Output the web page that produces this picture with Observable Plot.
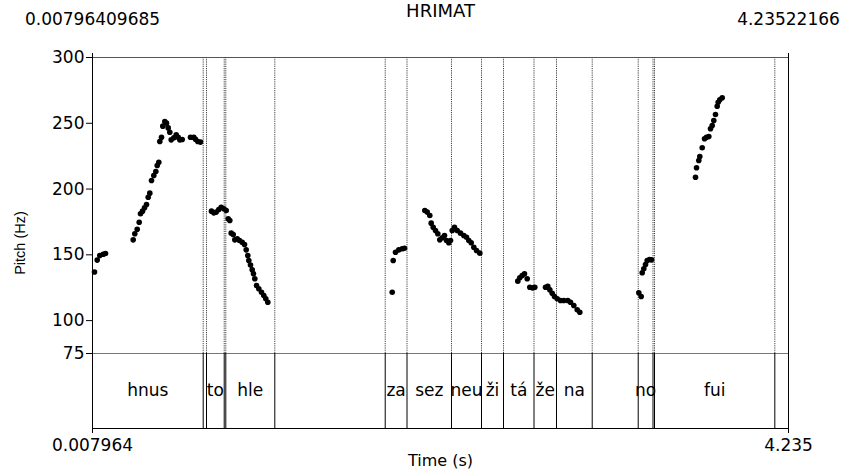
<!DOCTYPE html>
<html><head><meta charset="utf-8">
<script src="https://cdn.jsdelivr.net/npm/d3@7"></script>
<script src="https://cdn.jsdelivr.net/npm/@observablehq/plot@0.6"></script>
<style>body{margin:0;background:#fff}</style>
</head><body><div id="chart"></div>
<script>
const title = "HRIMAT";
const xLabel = "Time (s)";
const yLabel = "Pitch (Hz)";
const tStart = 0.00796409685, tEnd = 4.23522166;
const topLabels = ["0.00796409685", "4.23522166"];
const bottomLabels = ["0.007964", "4.235"];
const yTicks = [75, 100, 150, 200, 250, 300];
const fMin = 75, fMax = 300, tierBottom = 18;

const boundaries = [0.6803, 0.7004, 0.8079, 0.8176, 1.1152, 1.7858, 1.9182, 2.1884, 2.3707,
  2.5043, 2.6895, 2.8262, 3.0430, 3.3224, 3.4123, 3.4214, 4.1521];
const wordLabels = ["hnus", "", "to", "", "hle", "", "za", "sez", "neu", "ži", "tá", "že", "na", "", "no", "", "fui", ""];

const pitchTime = [
  0.0201, 0.0365, 0.0523, 0.0730, 0.0869,
  0.2552, 0.2649, 0.2795, 0.2916, 0.2995, 0.3117, 0.3238, 0.3360, 0.3463, 0.3560, 0.3663, 0.3803, 0.3925, 0.4010, 0.4107,
  0.4168, 0.4271, 0.4350, 0.4471, 0.4574, 0.4678, 0.4775, 0.4860, 0.5018, 0.5164, 0.5285, 0.5382, 0.5528, 0.6032, 0.6233,
  0.6336, 0.6476, 0.6640,
  0.7307, 0.7447, 0.7593, 0.7751, 0.7896, 0.8054, 0.8200, 0.8322, 0.8419, 0.8504, 0.8625, 0.8723, 0.8868, 0.9008, 0.9172,
  0.9312, 0.9415, 0.9512, 0.9573, 0.9676, 0.9779, 0.9858, 0.9937, 1.0041, 1.0180, 1.0344, 1.0484, 1.0605, 1.0727,
  1.8283, 1.8343, 1.8483, 1.8683, 1.8890, 1.9029,
  2.0263, 2.0408, 2.0566, 2.0651, 2.0772, 2.0912, 2.1052, 2.1173, 2.1319, 2.1459, 2.1580, 2.1720, 2.1824, 2.1927, 2.2066,
  2.2230, 2.2431, 2.2631, 2.2795, 2.2935, 2.3081, 2.3239, 2.3402, 2.3603,
  2.5911, 2.6032, 2.6178, 2.6318, 2.6482, 2.6640, 2.6804, 2.6944,
  2.7594, 2.7733, 2.7855, 2.8001, 2.8140, 2.8304, 2.8504, 2.8705, 2.8948, 2.9112, 2.9313, 2.9519, 2.9677,
  3.3260, 3.3406, 3.3467, 3.3564, 3.3667, 3.3770, 3.3910, 3.4031,
  3.6704, 3.6765, 3.6904, 3.6965, 3.7111, 3.7251, 3.7372, 3.7512, 3.7615, 3.7718, 3.7815, 3.7918, 3.8021, 3.8082, 3.8180, 3.8326
];
const pitchHz = [
  137, 146, 149.5, 150.5, 151,
  161.4, 166, 169.5, 174.8, 181.2, 183.2, 185.7, 188.3, 193.8, 196.9, 206.5, 210.3, 213.3, 217.9, 220.4,
  236.2, 239.4, 247.8, 251.4, 250.1, 246.5, 243.2, 237.4, 239, 241.2, 239.4, 237.4, 237.7, 239.4, 239.4,
  237.9, 236.2, 235.7,
  183.2, 181.9, 182.5, 184.5, 186.2, 185, 183.7, 177.4, 176.1, 166.5, 165.5, 161.4, 162.2, 160.9, 159.6,
  157.9, 153.8, 149.5, 145.7, 142.2, 138.6, 135.6, 131.8, 126.7, 124.2, 121.6, 119.1, 116.6, 114,
  121.6, 145.7, 152, 153.8, 154.6, 155,
  183.7, 182.5, 179.9, 174.1, 171, 168.5, 166, 161.4, 163, 164.7, 160.9, 159.2, 160.9, 168.5, 171,
  168.5, 166.5, 164.7, 163.4, 160.9, 159.2, 155.8, 153.3, 151.3,
  130, 132.5, 134.3, 135.6, 131.8, 125.4, 124.9, 125.4,
  125.4, 126, 123.4, 120.8, 118.3, 116.6, 115.3, 115.3, 115.3, 114, 111.5, 108.2, 106.4,
  121.1, 118.3, 136.4, 139.4, 142.7, 145.7, 146.5, 146.2,
  209, 216.2, 221.7, 224.8, 231.4, 238.2, 239.4, 240, 245.8, 248.3, 252.1, 256.7, 263, 266, 267.8, 269.4
];

const pitch = pitchTime.map((t, i) => ({t, f: pitchHz[i]}));
const edges = [tStart, ...boundaries, tEnd];
const intervals = wordLabels.map((label, i) => ({start: edges[i], end: edges[i + 1], label}));
const tierMid = (tierBottom + fMin) / 2;

const chart = Plot.plot({
  width: 842, height: 471,
  marginLeft: 92, marginRight: 54, marginTop: 57, marginBottom: 43,
  x: {domain: [tStart, tEnd]},
  y: {domain: [tierBottom, fMax]},
  style: {fontFamily: "'DejaVu Sans', sans-serif", fontSize: "17px", background: "white", color: "black"},
  marks: [
    Plot.ruleY([fMax], {stroke: "#555"}),
    Plot.ruleY([fMin], {stroke: "#777"}),
    Plot.ruleY([tierBottom], {stroke: "black"}),
    Plot.ruleX(boundaries, {y1: fMin, y2: fMax, stroke: "#444", strokeDasharray: "1.2,1"}),
    Plot.ruleX(boundaries, {y1: tierBottom, y2: fMin, stroke: "black"}),
    Plot.ruleX([tStart, tEnd], {y1: tierBottom, y2: fMax, stroke: "black"}),
    Plot.dot(pitch, {x: "t", y: "f", r: 2.8, fill: "black", stroke: null}),
    Plot.text(intervals.filter(d => d.label), {x: d => (d.start + d.end) / 2, y: tierMid, text: "label"}),
    Plot.axisY(yTicks, {tickSize: 6, tickPadding: 2, label: null}),
    Plot.axisX([tStart, tEnd], {anchor: "top", tickSize: 5, tickPadding: 28, label: null,
      tickFormat: d => d === tStart ? topLabels[0] : topLabels[1]}),
    Plot.axisX([tStart, tEnd], {anchor: "bottom", tickSize: 5, tickPadding: 5, label: null,
      tickFormat: d => d === tStart ? bottomLabels[0] : bottomLabels[1]}),
    Plot.text([title], {frameAnchor: "top", lineAnchor: "middle", dy: -46, fontSize: 18}),
    Plot.text([xLabel], {frameAnchor: "bottom", lineAnchor: "middle", dy: 32, fontSize: 16}),
    Plot.text([yLabel], {frameAnchor: "left", textAnchor: "middle", lineAnchor: "middle", dx: -72, rotate: -90,
      fontFamily: "'Liberation Sans', sans-serif", fontSize: 14.5})
  ]
});
document.getElementById("chart").appendChild(chart);
</script>
</body></html>
